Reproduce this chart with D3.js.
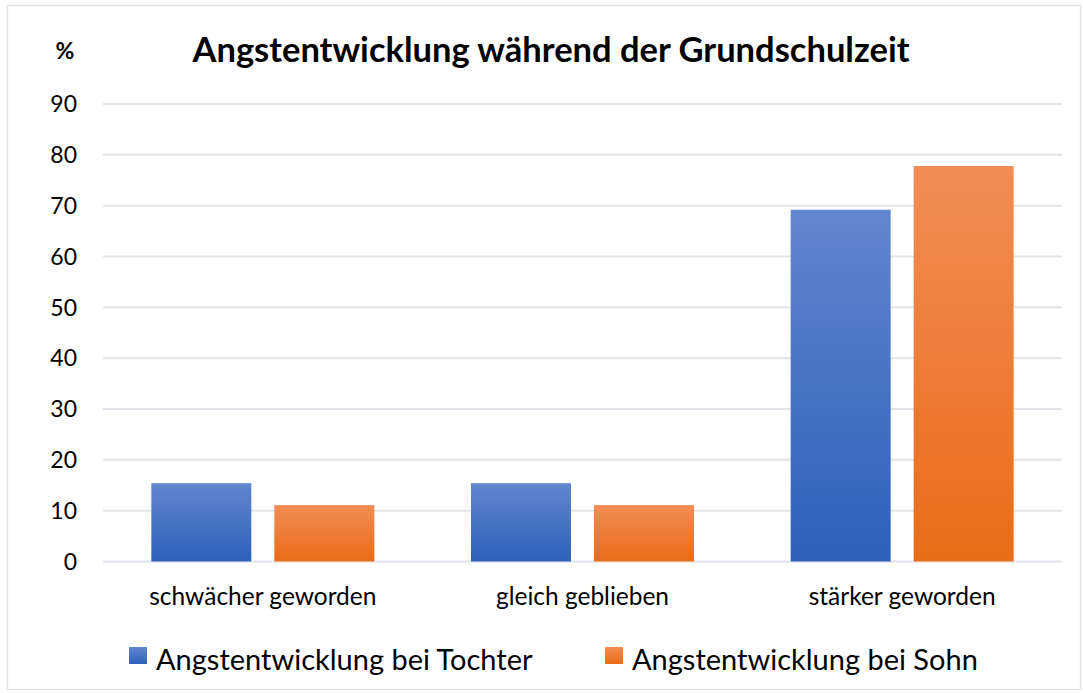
<!DOCTYPE html>
<html>
<head>
<meta charset="utf-8">
<script src="https://cdn.jsdelivr.net/npm/d3@7"></script>
<style>
  body { margin: 0; background: #fff; }
  text { font-family: Lato, "Open Sans", sans-serif; fill: #000; }
</style>
</head>
<body>
<svg id="chart"></svg>
<script>
var categories = ["schwächer geworden", "gleich geblieben", "stärker geworden"];
var seriesNames = ["Angstentwicklung bei Tochter", "Angstentwicklung bei Sohn"];
var tochter = [15.4, 15.4, 69.2];
var sohn = [11.1, 11.1, 77.8];
var yTicks = [0, 10, 20, 30, 40, 50, 60, 70, 80, 90];

var width = 1083, height = 693;
var margin = { top: 104, right: 21, bottom: 132, left: 103 };

var svg = d3.select("#chart").attr("width", width).attr("height", height);

var defs = svg.append("defs");
var grads = [["gBlue", "#6187cd", "#2e60bb"], ["gOrange", "#f28d55", "#e96c18"]];
grads.forEach(function (g) {
  var lg = defs.append("linearGradient").attr("id", g[0])
    .attr("x1", 0).attr("y1", 0).attr("x2", 0).attr("y2", 1);
  lg.append("stop").attr("offset", "0%").attr("stop-color", g[1]);
  lg.append("stop").attr("offset", "100%").attr("stop-color", g[2]);
});

// chart frame
svg.append("rect")
  .attr("x", 7.5).attr("y", 5.5)
  .attr("width", width - 10).attr("height", height - 9)
  .attr("fill", "none").attr("stroke", "#dfe4ea").attr("stroke-width", 1.5);

var g = svg.append("g").attr("transform", "translate(" + margin.left + "," + margin.top + ")");
var w = width - margin.left - margin.right;
var h = height - margin.top - margin.bottom;

var y = d3.scaleLinear().domain([0, 90]).range([h + 0.5, 0]);
var x0 = d3.scaleBand().domain(categories).range([0, w]);
var x1 = d3.scaleBand().domain(seriesNames).range([0, 223]).paddingInner(0.187);

// gridlines
g.selectAll(".grid").data(yTicks).enter().append("line")
  .attr("x1", 0).attr("x2", w)
  .attr("y1", function (d) { return y(d); }).attr("y2", function (d) { return y(d); })
  .attr("stroke", "#e1e4e9").attr("stroke-width", 2);

// y tick labels
g.selectAll(".ytick").data(yTicks).enter().append("text")
  .attr("x", -26).attr("y", function (d) { return y(d); })
  .attr("dy", "0.36em").attr("text-anchor", "end")
  .style("font-size", "23px")
  .text(function (d) { return d; });

var groups = g.selectAll(".cat").data(categories).enter().append("g")
  .attr("transform", function (d) {
    return "translate(" + (x0(d) + x0.bandwidth() / 2 - 111.5) + ",0)";
  });

var values = [tochter, sohn];
groups.selectAll("rect").data(function (d, i) {
  return seriesNames.map(function (s, j) { return { s: s, v: values[j][i], j: j }; });
}).enter().append("rect")
  .attr("x", function (d) { return x1(d.s); })
  .attr("width", x1.bandwidth())
  .attr("y", function (d) { return y(d.v); })
  .attr("height", function (d) { return y(0) - y(d.v); })
  .attr("fill", function (d) { return d.j === 0 ? "url(#gBlue)" : "url(#gOrange)"; });

// category labels
g.selectAll(".xlab").data(categories).enter().append("text")
  .attr("x", function (d) { return x0(d) + x0.bandwidth() / 2; })
  .attr("y", h + 44)
  .attr("text-anchor", "middle")
  .style("font-size", "24.5px")
  .text(function (d) { return d; });

// title and unit
svg.append("text").attr("x", 551).attr("y", 62).attr("text-anchor", "middle")
  .style("font-size", "34.5px").style("font-weight", "bold")
  .text("Angstentwicklung während der Grundschulzeit");
svg.append("text").attr("x", 65).attr("y", 59).attr("text-anchor", "middle")
  .style("font-size", "23px").style("font-weight", "bold")
  .text("%");

// legend
var legendX = [129, 605];
var legend = svg.selectAll(".legend").data(seriesNames).enter().append("g")
  .attr("transform", function (d, i) { return "translate(" + legendX[i] + ",647)"; });
legend.append("rect").attr("width", 18).attr("height", 17)
  .attr("fill", function (d, i) { return i === 0 ? "url(#gBlue)" : "url(#gOrange)"; });
legend.append("text").attr("x", 27).attr("y", 23)
  .style("font-size", "29px")
  .text(function (d) { return d; });
</script>
</body>
</html>
